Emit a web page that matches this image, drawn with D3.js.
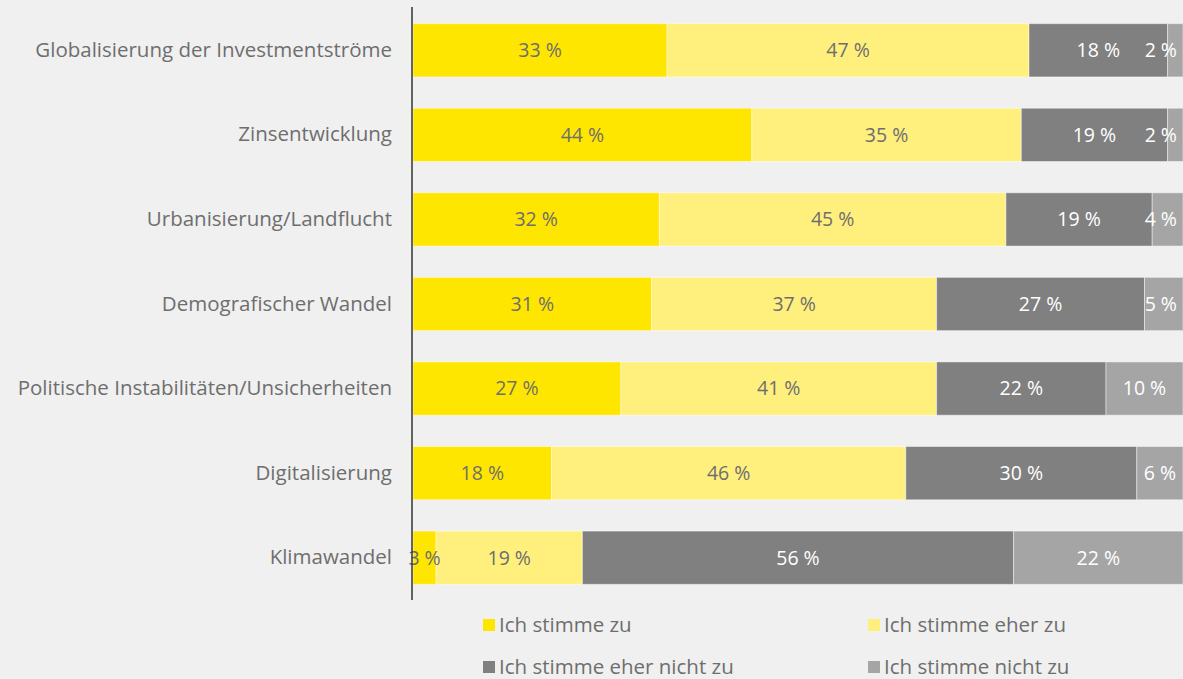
<!DOCTYPE html>
<html><head><meta charset="utf-8">
<script src="https://cdn.jsdelivr.net/npm/d3@7"></script>
<style>
html,body{margin:0;padding:0;background:#f0f0f0;}
svg{display:block;font-family:"Open Sans",Lato,sans-serif;}
</style></head>
<body>
<svg id="chart" width="1183" height="679"></svg>
<script>
const categories = ["Globalisierung der Investmentströme","Zinsentwicklung","Urbanisierung/Landflucht","Demografischer Wandel","Politische Instabilitäten/Unsicherheiten","Digitalisierung","Klimawandel"];
const seriesNames = ["Ich stimme zu","Ich stimme eher zu","Ich stimme eher nicht zu","Ich stimme nicht zu"];
const stimmeZu = [33,44,32,31,27,18,3];
const eherZu = [47,35,45,37,41,46,19];
const eherNichtZu = [18,19,19,27,22,30,56];
const nichtZu = [2,2,4,5,10,6,22];
const colors = ["#ffe600","#fff07e","#808080","#a5a5a5"];
const labelColors = ["#6e6e6e","#6e6e6e","#ffffff","#ffffff"];

const series = [stimmeZu, eherZu, eherNichtZu, nichtZu];
const rows = categories.map((c,i)=>{ const o={cat:c}; seriesNames.forEach((s,j)=>o[s]=series[j][i]); return o; });
const stacked = d3.stack().keys(seriesNames)(rows);

const svg = d3.select("#chart");
const x = d3.scaleLinear().domain([0,100]).range([413,1183]);
const y = d3.scaleBand().domain(categories).range([8,600]).paddingInner(0.37).paddingOuter(0.185);

const g = svg.append("g");
stacked.forEach((layer,j)=>{
  const lg = g.append("g");
  lg.selectAll("rect").data(layer).join("rect")
    .attr("x",d=>x(d[0])).attr("y",d=>y(d.data.cat))
    .attr("width",d=>x(d[1])-x(d[0])).attr("height",y.bandwidth())
    .attr("fill",colors[j]).attr("stroke","rgba(255,255,255,0.45)").attr("stroke-width",1);
});
stacked.forEach((layer,j)=>{
  g.append("g").selectAll("text").data(layer).join("text")
    .attr("y",d=>y(d.data.cat)+y.bandwidth()/2)
    .attr("dy","0.35em").attr("text-anchor","middle")
    .attr("font-size",19.5).attr("fill",labelColors[j])
    .text(d=>(d[1]-d[0])+" %")
    .attr("x",function(d){ const w=this.getComputedTextLength(); return Math.min((x(d[0])+x(d[1]))/2, 1177-w/2); });
});

// axis
const yAxis = d3.axisLeft(y).tickSize(0).tickPadding(20);
const ag = svg.append("g").attr("transform","translate(412,0)").call(yAxis);
ag.select(".domain").attr("stroke","#333").attr("stroke-width",1.5).attr("d","M0,7V600");
ag.selectAll("text").attr("font-size",20.5).attr("fill","#6e6e6e").attr("font-family","'Open Sans',Lato,sans-serif");

// legend
const legPos = [[483,625],[868,625],[483,667],[868,667]];
seriesNames.forEach((s,j)=>{
  const lg = svg.append("g").attr("transform",`translate(${legPos[j][0]},${legPos[j][1]})`);
  lg.append("rect").attr("x",0).attr("y",-6).attr("width",12).attr("height",12).attr("fill",colors[j]);
  lg.append("text").attr("x",16).attr("y",0).attr("dy","0.35em").attr("font-size",20.5).attr("fill","#6e6e6e").text(s);
});
</script>
</body></html>
